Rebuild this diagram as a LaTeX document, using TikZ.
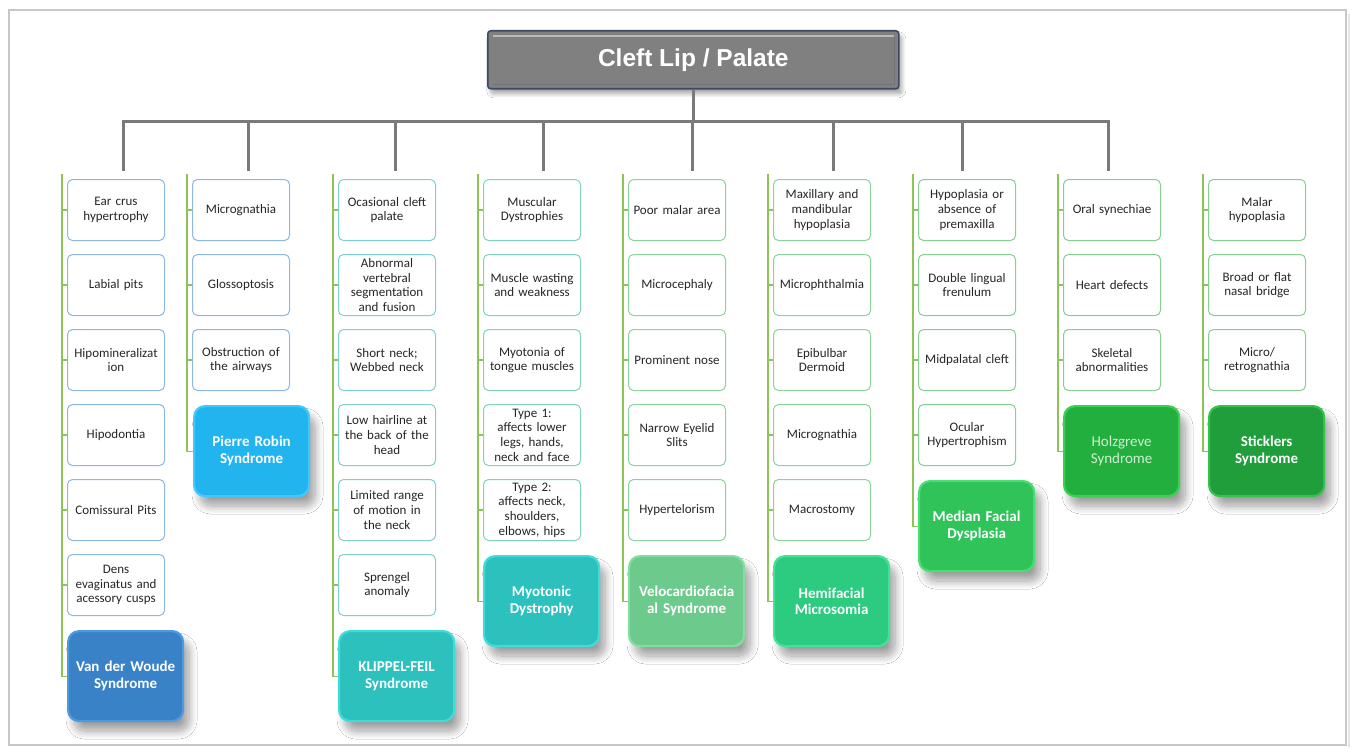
\documentclass[tikz,border=0pt]{standalone}
\usepackage{fontspec}
\setmainfont{Carlito}
\newfontfamily\titlefont{Liberation Sans}
\usetikzlibrary{shadows.blur}
\definecolor{gl}{HTML}{8CC45A}
\definecolor{barc}{HTML}{7A7A7A}
\definecolor{txt}{HTML}{262626}
\definecolor{bA}{HTML}{8DB8E2}
\definecolor{bB}{HTML}{7FCFD2}
\definecolor{bC}{HTML}{80D4BE}
\definecolor{bD}{HTML}{8CD49C}
\definecolor{bE}{HTML}{86CF92}
\definecolor{sA}{HTML}{3A82C8}\definecolor{rA}{HTML}{4E9AE0}
\definecolor{sB}{HTML}{22B4EE}\definecolor{rB}{HTML}{3FC9FF}
\definecolor{sC}{HTML}{2DC1BE}\definecolor{rC}{HTML}{3EDDDA}
\definecolor{sD}{HTML}{6CCB8C}\definecolor{rD}{HTML}{82DEA0}
\definecolor{sE}{HTML}{2CCB80}\definecolor{rE}{HTML}{3EE497}
\definecolor{sF}{HTML}{2FC35A}\definecolor{rF}{HTML}{48DE70}
\definecolor{sG}{HTML}{22AF3E}\definecolor{rG}{HTML}{3AD052}
\definecolor{sH}{HTML}{1F9E3B}\definecolor{rH}{HTML}{36C04C}
\tikzset{
  symbox/.style={draw=#1, line width=1pt, rounded corners=5pt, fill=white,
    anchor=north west, minimum width=97pt, minimum height=61pt,
    text width=93pt, inner xsep=2pt, inner ysep=0pt, align=center,
    text=txt, font=\fontsize{13}{14.6}\selectfont},
  syndbox/.style 2 args={draw=#2, fill=#1, line width=2.2pt, rounded corners=11pt,
    anchor=north west, minimum width=115pt, minimum height=90pt,
    text width=109pt, inner xsep=3pt, align=center, text=white,
    font=\fontsize{15}{16.5}\selectfont\bfseries,
    blur shadow={shadow xshift=6pt, shadow yshift=-10pt, shadow blur radius=8pt,
      shadow blur steps=14, shadow opacity=38}},
  gline/.style={draw=gl, line width=1.2pt},
  trunk/.style={draw=barc, line width=3pt},
}
\begin{document}
\begin{tikzpicture}[x=1pt,y=-1pt]
\useasboundingbox (0,0) rectangle (1354,749);
\fill[white] (0,0) rectangle (1354,749);
\draw[black!22, line width=1.6pt] (9,10) rectangle (1346,745);
\draw[black!10, line width=1.2pt] (1349,14) -- (1349,747);
% title
\node[draw={rgb,255:red,60;green,74;blue,100}, fill={rgb,255:red,128;green,128;blue,128}, line width=1.6pt, rounded corners=3pt,
  minimum width=411pt, minimum height=58pt, anchor=north west,
  blur shadow={shadow xshift=3pt, shadow yshift=-5pt, shadow blur radius=4pt, shadow blur steps=10, shadow opacity=35}] (title) at (487,30) {};
\draw[white!45!gray, line width=1.5pt] ([xshift=6pt,yshift=-6pt]title.north west) -- ([xshift=-6pt,yshift=-6pt]title.north east);
\draw[black!55, line width=1.2pt] ([xshift=6pt,yshift=5pt]title.south west) -- ([xshift=-5pt,yshift=5pt]title.south east) -- ([xshift=-5pt,yshift=-6pt]title.north east);
\node[text=white, font=\titlefont\fontsize{24.5}{26}\selectfont\bfseries] (titletext) at (title.center) {Cleft Lip / Palate};
% bar and drops
\coordinate (barL) at (123,122);
\coordinate (barR) at (1108,122);
\draw[trunk] (title.south) -- (title.south |- barL);
\draw[trunk, line cap=rect] (barL) -- (barR);
\foreach \x [count=\i] in {123,248,395,543,692,833,962,1108}{
  \coordinate (dt\i) at (\x,122);
  \coordinate (db\i) at (\x,171);
  \draw[trunk] (dt\i) -- (db\i);
}
% column 1
\node[symbox=bA] (a1) at (67,179) {Ear crus\\hypertrophy};
\node[symbox=bA] (a2) at (67,254) {Labial pits};
\node[symbox=bA] (a3) at (67,329) {Hipomineralizat\\ion};
\node[symbox=bA] (a4) at (67,404) {Hipodontia};
\node[symbox=bA] (a5) at (67,479) {Comissural Pits};
\node[symbox=bA] (a6) at (67,554) {Dens\\evaginatus and\\acessory cusps};
\node[syndbox={sA}{rA}] (as) at (67,630) {Van der Woude\\Syndrome};
% column 2
\node[symbox=bA] (b1) at (192,179) {Micrognathia};
\node[symbox=bA] (b2) at (192,254) {Glossoptosis};
\node[symbox=bA] (b3) at (192,329) {Obstruction of\\the airways};
\node[syndbox={sB}{rB}] (bs) at (193,405) {Pierre Robin\\Syndrome};
% column 3
\node[symbox=bB] (c1) at (338,179) {Ocasional cleft\\palate};
\node[symbox=bB] (c2) at (338,254) {Abnormal\\vertebral\\segmentation\\and fusion};
\node[symbox=bB] (c3) at (338,329) {Short neck;\\Webbed neck};
\node[symbox=bB] (c4) at (338,404) {Low hairline at\\the back of the\\head};
\node[symbox=bB] (c5) at (338,479) {Limited range\\of motion in\\the neck};
\node[symbox=bB] (c6) at (338,554) {Sprengel\\anomaly};
\node[syndbox={sC}{rC}] (cs) at (338,630) {KLIPPEL-FEIL\\Syndrome};
% column 4
\node[symbox=bC] (d1) at (483,179) {Muscular\\Dystrophies};
\node[symbox=bC] (d2) at (483,254) {Muscle wasting\\and weakness};
\node[symbox=bC] (d3) at (483,329) {Myotonia of\\tongue muscles};
\node[symbox=bC] (d4) at (483,404) {Type 1:\\affects lower\\legs, hands,\\neck and face};
\node[symbox=bC] (d5) at (483,479) {Type 2:\\affects neck,\\shoulders,\\elbows, hips};
\node[syndbox={sC}{rC}] (ds) at (483,555) {Myotonic\\Dystrophy};
% column 5
\node[symbox=bD] (e1) at (628,179) {Poor malar area};
\node[symbox=bD] (e2) at (628,254) {Microcephaly};
\node[symbox=bD] (e3) at (628,329) {Prominent nose};
\node[symbox=bD] (e4) at (628,404) {Narrow Eyelid\\Slits};
\node[symbox=bD] (e5) at (628,479) {Hypertelorism};
\node[syndbox={sD}{rD}] (es) at (628,555) {Velocardiofacia\\al Syndrome};
% column 6
\node[symbox=bD] (f1) at (773,179) {Maxillary and\\mandibular\\hypoplasia};
\node[symbox=bD] (f2) at (773,254) {Microphthalmia};
\node[symbox=bD] (f3) at (773,329) {Epibulbar\\Dermoid};
\node[symbox=bD] (f4) at (773,404) {Micrognathia};
\node[symbox=bD] (f5) at (773,479) {Macrostomy};
\node[syndbox={sE}{rE}] (fs) at (773,555) {Hemifacial\\Microsomia};
% column 7
\node[symbox=bE] (g1) at (918,179) {Hypoplasia or\\absence of\\premaxilla};
\node[symbox=bE] (g2) at (918,254) {Double lingual\\frenulum};
\node[symbox=bE] (g3) at (918,329) {Midpalatal cleft};
\node[symbox=bE] (g4) at (918,404) {Ocular\\Hypertrophism};
\node[syndbox={sF}{rF}] (gs) at (918,480) {Median Facial\\Dysplasia};
% column 8
\node[symbox=bE] (h1) at (1063,179) {Oral synechiae};
\node[symbox=bE] (h2) at (1063,254) {Heart defects};
\node[symbox=bE] (h3) at (1063,329) {Skeletal\\abnormalities};
\node[syndbox={sG}{rG}, font=\fontsize{15}{16.5}\selectfont, text={rgb,255:red,210;green,238;blue,210}] (hs) at (1063,405) {Holzgreve\\Syndrome};
% column 9
\node[symbox=bE] (i1) at (1208,179) {Malar\\hypoplasia};
\node[symbox=bE] (i2) at (1208,254) {Broad or flat\\nasal bridge};
\node[symbox=bE] (i3) at (1208,329) {Micro/\\retrognathia};
\node[syndbox={sH}{rH}] (is) at (1208,405) {Sticklers\\Syndrome};
% green spines
\foreach \col/\x/\n in {a/62/6,b/187/3,c/333/6,d/478/5,e/623/5,f/768/5,g/913/4,h/1058/3,i/1203/3}{
  \coordinate (\col top) at (\x,174);
  \draw[gline] (\col top) |- (\col s.west);
  \foreach \k in {1,...,\n}{
    \draw[gline] (\col\k.west) -- (\col\k.west -| \col top);
  }
}
\end{tikzpicture}
\end{document}
